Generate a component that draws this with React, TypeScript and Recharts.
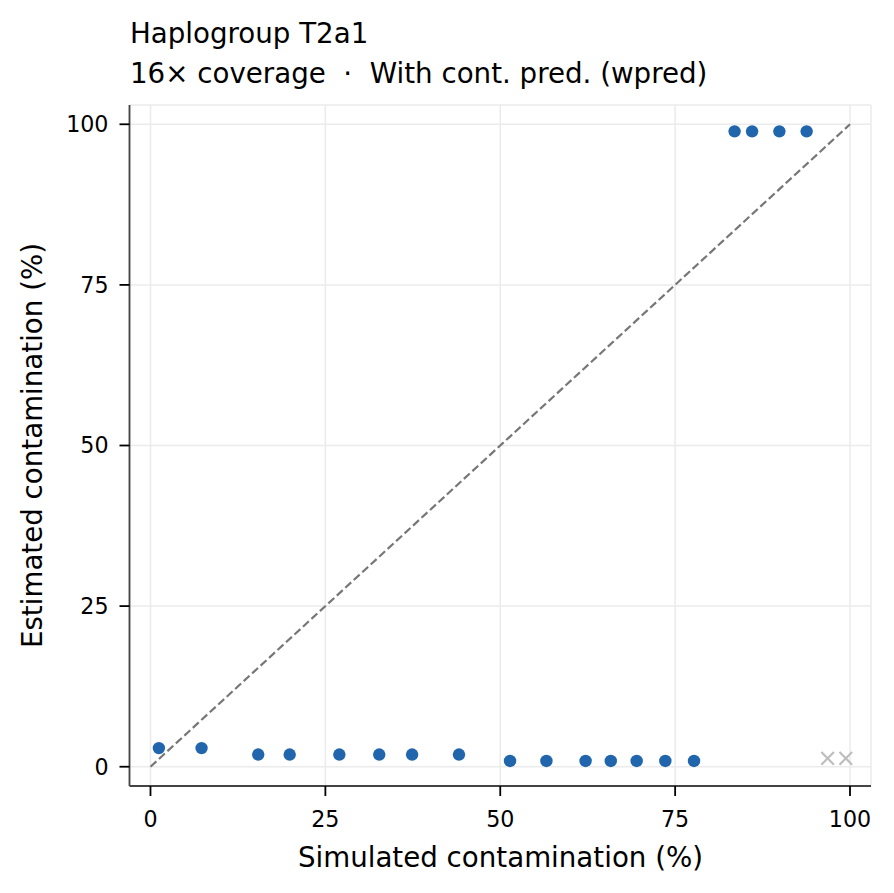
import React from 'react';
import { ScatterChart, Scatter, XAxis, YAxis, CartesianGrid, ReferenceLine } from 'recharts';

const FONT = '"DejaVu Sans", sans-serif';

const titleLine1 = 'Haplogroup T2a1';
const titleLine2 = '16\u00d7 coverage  \u00b7  With cont. pred. (wpred)';
const xLabel = 'Simulated contamination (%)';
const yLabel = 'Estimated contamination (%)';

const axisTicks = [0, 25, 50, 75, 100];
const axisDomain: [number, number] = [-3, 103];

// Estimated points (blue dots)
const lowX = [1.2, 7.3, 15.4, 19.9, 27.0, 32.7, 37.4, 44.1, 51.4, 56.6, 62.2, 65.8, 69.5, 73.6, 77.7];
const lowY = [2.9, 2.9, 1.9, 1.9, 1.9, 1.9, 1.9, 1.9, 0.9, 0.9, 0.9, 0.9, 0.9, 0.9, 0.9];
const highX = [83.5, 86.0, 89.9, 93.8];
const highY = [98.9, 98.9, 98.9, 98.9];

// Failed / excluded points (grey crosses)
const crossX = [96.8, 99.4];
const crossY = [1.3, 1.3];

// Identity line
const diagStart = { x: 0, y: 0 };
const diagEnd = { x: 100, y: 100 };

const dots = [
  ...lowX.map((x, i) => ({ x, y: lowY[i] })),
  ...highX.map((x, i) => ({ x, y: highY[i] })),
];
const crosses = crossX.map((x, i) => ({ x, y: crossY[i] }));

const Dot = (props: any) => {
  const { cx, cy } = props;
  if (cx == null || cy == null) return null;
  return <circle cx={cx} cy={cy} r={6.2} fill="#2166ac" />;
};

const Cross = (props: any) => {
  const { cx, cy } = props;
  if (cx == null || cy == null) return null;
  const s = 6.3;
  return (
    <g stroke="#bdbdbd" strokeWidth={2.2}>
      <line x1={cx - s} y1={cy - s} x2={cx + s} y2={cy + s} />
      <line x1={cx - s} y1={cy + s} x2={cx + s} y2={cy - s} />
    </g>
  );
};

const W = 894;
const H = 893;

export default function App() {
  const tickStyle = { fill: '#000', fontSize: 22.2, fontFamily: FONT };
  return (
    <div style={{ position: 'absolute', left: 0, top: 0, width: W, height: H, background: '#fff' }}>
      <ScatterChart
        width={W}
        height={H}
        margin={{ top: 105, right: 23, bottom: 0, left: 0 }}
        style={{ position: 'absolute', left: 0, top: 0 }}
      >
        <CartesianGrid stroke="#ebebeb" strokeWidth={1.5} />
        <XAxis
          type="number"
          dataKey="x"
          domain={axisDomain}
          ticks={axisTicks}
          allowDataOverflow
          height={107}
          tick={tickStyle}
          tickSize={10}
          tickMargin={15}
          tickLine={{ stroke: '#000', strokeWidth: 1.8 }}
          axisLine={{ stroke: '#444', strokeWidth: 1.8 }}
        />
        <YAxis
          type="number"
          dataKey="y"
          domain={axisDomain}
          ticks={axisTicks}
          allowDataOverflow
          width={129.5}
          tick={tickStyle}
          tickSize={10}
          tickMargin={11}
          tickLine={{ stroke: '#000', strokeWidth: 1.8 }}
          axisLine={{ stroke: '#444', strokeWidth: 1.8 }}
        />
        <ReferenceLine
          segment={[diagStart, diagEnd]}
          stroke="#777"
          strokeWidth={2.2}
          strokeDasharray="8 3.5"
          ifOverflow="visible"
        />
        <Scatter data={dots} shape={<Dot />} isAnimationActive={false} />
        <Scatter data={crosses} shape={<Cross />} isAnimationActive={false} />
      </ScatterChart>
      <svg
        width={W}
        height={H}
        style={{ position: 'absolute', left: 0, top: 0, pointerEvents: 'none' }}
      >
        <g fontFamily={FONT} fontSize={27.7} fill="#000">
          <text x={130} y={42.7}>{titleLine1}</text>
          <text x={130} y={82.7} style={{ whiteSpace: 'pre' }} xmlSpace="preserve">{titleLine2}</text>
          <text x={500.5} y={866.7} textAnchor="middle">{xLabel}</text>
          <text x={42} y={445.5} textAnchor="middle" transform="rotate(-90 42 445.5)">{yLabel}</text>
        </g>
      </svg>
    </div>
  );
}
